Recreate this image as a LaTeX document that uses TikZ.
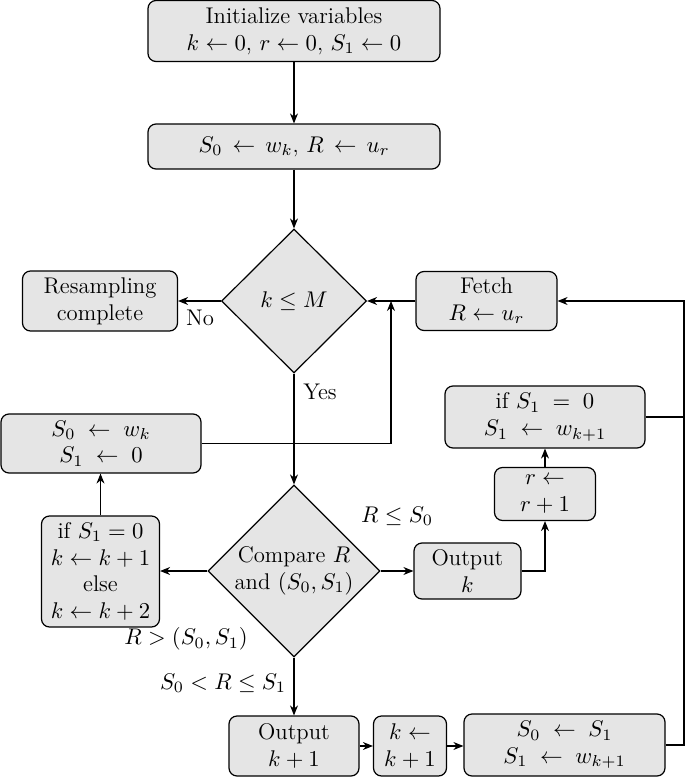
\documentclass[tikz,border=0pt]{standalone}
\usepackage{fix-cm}
\usetikzlibrary{arrows.meta,shapes.geometric}

\begin{document}
\begin{tikzpicture}[
  x=0.5pt, y=-0.5pt,
  font=\fontsize{11.35}{13.4}\selectfont,
  >={Stealth[length=5pt, width=4pt]},
  box/.style={rounded corners=4pt, draw=black, line width=0.6pt, fill=gray!20,
              align=center, inner sep=2pt},
  decision/.style={diamond, draw=black, line width=0.6pt, fill=gray!20,
              align=center, inner sep=0pt},
  flow/.style={->, line width=0.6pt},
  link/.style={line width=0.6pt},
]
\useasboundingbox (0,0) rectangle (685,777);

% ---------- Initialisation ----------
\node[box, minimum width=146pt, minimum height=30.5pt] (init) at (294,31)
  {Initialize variables\\$k \leftarrow 0$, $r \leftarrow 0$, $S_1 \leftarrow 0$};
\node[box, minimum width=146pt, minimum height=22.5pt] (load) at (294,146.5)
  {$S_0 \,\leftarrow\, w_k$, $R \,\leftarrow\, u_r$};

% ---------- Loop test ----------
\node[decision, minimum width=72.5pt, minimum height=72pt] (check) at (294,301) {$k \le M$};
\node[box, minimum width=77.5pt, minimum height=30pt] (done) at (100,301) {Resampling\\complete};
\node[box, minimum width=70.5pt, minimum height=29.5pt] (fetch) at (486.5,301) {Fetch\\$R \leftarrow u_r$};
\node[box, minimum width=100pt, minimum height=29.5pt] (reset) at (101,443.5)
  {$S_0 \;\leftarrow\; w_k$\\$S_1 \;\leftarrow\; 0$};
\node[box, minimum width=100pt, minimum height=31pt] (refill) at (545,417)
  {if $S_1 \;=\; 0$\\$S_1 \;\leftarrow\; w_{k+1}$};
\node[box, minimum width=50.5pt, minimum height=26.5pt] (nextr) at (545,494) {$r \leftarrow$\\$r+1$};

% ---------- Comparison ----------
\node[decision, minimum width=86pt, minimum height=86pt] (cmp) at (294,571) {Compare $R$\\and $(S_0,S_1)$};
\node[box, minimum width=59pt, minimum height=55.5pt] (skip) at (100.5,571.5)
  {if $S_1 = 0$\\$k \leftarrow k+1$\\else\\$k \leftarrow k+2$};
\node[box, minimum width=53.5pt, minimum height=28pt] (outk) at (467.5,571) {Output\\$k$};

% ---------- Bottom row ----------
\node[box, minimum width=65pt, minimum height=30pt] (outk1) at (294,746) {Output\\$k+1$};
\node[box, minimum width=36.5pt, minimum height=30pt] (nextk) at (410,746) {$k \leftarrow$\\$k+1$};
\node[box, minimum width=100.5pt, minimum height=31pt] (shift) at (564.5,745)
  {$S_0 \;\leftarrow\; S_1$\\$S_1 \;\leftarrow\; w_{k+1}$};

% ---------- Labels ----------
\node (no)  at (200,318) {No};
\node (yes) at (320,392) {Yes};
\node (le)  at (397,516) {$R \le S_0$};
\node (gt)  at (186,639) {$R > (S_0,S_1)$};
\node (mid) at (223,683) {$S_0 < R \le S_1$};

% ---------- Connectors ----------
\coordinate (merge) at (391,301);
\coordinate (railb) at (684,745);
\coordinate (railt) at (684,301);

\draw[flow] (init) -- (load);
\draw[flow] (load) -- (check);
\draw[flow] (check) -- (done);
\draw[flow] (fetch) -- (check);
\draw[flow] (reset.east) -| (merge);
\draw[flow] (check) -- (cmp);
\draw[flow] (cmp.west) -- (cmp.west -| skip.east);
\draw[flow] (skip.north) -- (skip.north |- reset.south);
\draw[flow] (cmp) -- (outk);
\draw[flow] (outk.east) -| (nextr.south);
\draw[flow] (nextr) -- (refill);
\draw[link] (refill.east) -- (refill.east -| railt);
\draw[flow] (cmp) -- (outk1);
\draw[flow] (outk1) -- (nextk);
\draw[flow] (nextk) -- (nextk -| shift.west);
\draw[flow] (shift.east) -- (railb) -- (railt) -- (fetch.east);

\end{tikzpicture}
\end{document}
